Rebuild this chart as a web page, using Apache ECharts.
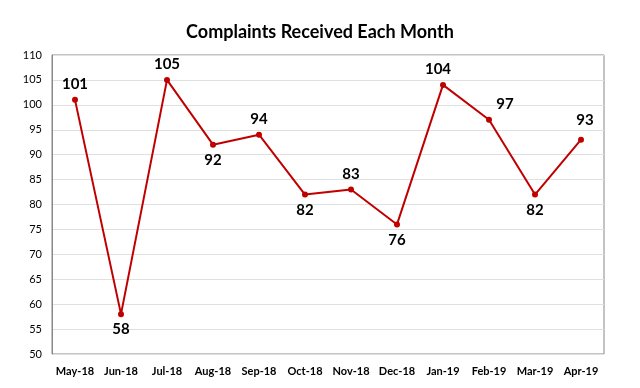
<!DOCTYPE html>
<html><head><meta charset="utf-8">
<script src="https://cdn.jsdelivr.net/npm/echarts@6/dist/echarts.min.js"></script>
<style>html,body{margin:0;padding:0;background:#fff}#c{width:640px;height:388px}</style>
</head><body><div id="c"></div>
<script>
const categories = ['May-18','Jun-18','Jul-18','Aug-18','Sep-18','Oct-18','Nov-18','Dec-18','Jan-19','Feb-19','Mar-19','Apr-19'];
const complaints = [101,58,105,92,94,82,83,76,104,97,82,93];
const labelPos = ['top','bottom','top','bottom','top','bottom','top','bottom','top','top','bottom','top'];
const labelOffset = [[0,0],[0,0],[0,0],[0,0],[0,0],[0,0],[0,0],[0,0],[-5,0],[16,0],[0,0],[4,-4]];

const font = 'Lato, "Open Sans", sans-serif';
const chart = echarts.init(document.getElementById('c'));
chart.setOption({
  animation:false,
  title:{text:'Complaints Received Each Month',left:'center',top:18,
    textStyle:{fontFamily:font,fontWeight:'bold',fontSize:18,color:'#000'}},
  grid:{left:52,right:36,top:55,bottom:34,show:true,borderColor:'#888',borderWidth:1},
  xAxis:{type:'category',data:categories,boundaryGap:true,
    axisLine:{show:false},axisTick:{show:false},
    axisLabel:{fontFamily:font,fontWeight:'bold',fontSize:11,color:'#000',margin:12,interval:0}},
  yAxis:{type:'value',min:50,max:110,interval:5,
    axisLine:{show:true,lineStyle:{color:'#888'}},axisTick:{show:false},
    splitLine:{lineStyle:{color:'#e0e0e0'}},
    axisLabel:{fontFamily:font,fontSize:11,color:'#000',margin:10}},
  series:[{type:'line',data:complaints.map((v,i)=>({value:v,label:{position:labelPos[i],offset:labelOffset[i]}})),
    lineStyle:{color:'#C00000',width:2},itemStyle:{color:'#C00000'},
    symbol:'circle',symbolSize:6,
    label:{show:true,fontFamily:font,fontWeight:'bold',fontSize:15,color:'#000',distance:5}}]
});
</script></body></html>
